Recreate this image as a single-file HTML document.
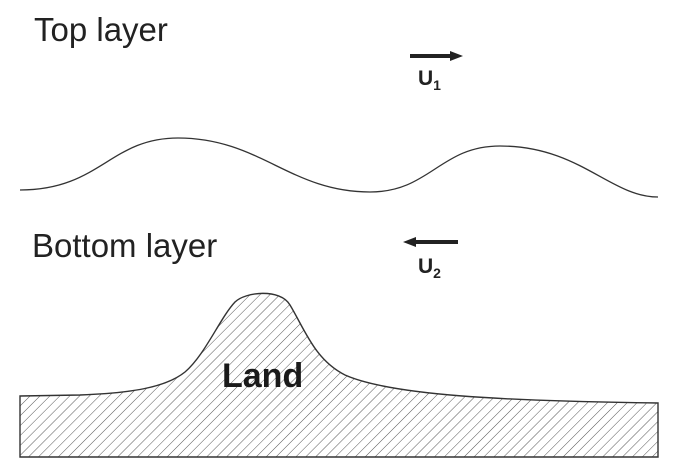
<!DOCTYPE html>
<html><head><meta charset="utf-8"><style>
html,body{margin:0;padding:0;background:#fff;}
svg{display:block;}
</style></head><body>
<svg width="678" height="476" viewBox="0 0 678 476" xmlns="http://www.w3.org/2000/svg">
<defs>
<pattern id="h" patternUnits="userSpaceOnUse" width="7" height="7" patternTransform="rotate(45)">
<line x1="0" y1="0" x2="0" y2="7" stroke="#444" stroke-width="0.9"/>
</pattern>
</defs>
<text x="34" y="41" font-family="Liberation Sans, sans-serif" font-size="33" fill="#222">Top layer</text>
<text x="32" y="257" font-family="Liberation Sans, sans-serif" font-size="33" fill="#222">Bottom layer</text>
<path d="M20,190 C100,190 110,138 178,138 C260,138 290,192 370,192 C430,192 440,146 500,146 C580,146 610,197 658,197" fill="none" stroke="#333" stroke-width="1.3"/>
<line x1="410" y1="56" x2="452" y2="56" stroke="#222" stroke-width="4"/>
<polygon points="450,51 463,56 450,61" fill="#222"/>
<text x="418" y="85" font-family="Liberation Sans, sans-serif" font-size="21" font-weight="bold" fill="#222">U<tspan font-size="14" dy="5">1</tspan></text>
<line x1="414" y1="242" x2="458" y2="242" stroke="#222" stroke-width="4"/>
<polygon points="416,237 403,242 416,247" fill="#222"/>
<text x="418" y="273" font-family="Liberation Sans, sans-serif" font-size="21" font-weight="bold" fill="#222">U<tspan font-size="14" dy="5">2</tspan></text>
<path d="M20,396 L80,395 C130,393 165,388 185,372 C205,355 220,318 235,302 C245,292 280,288 290,305 C305,330 315,360 345,375 C390,395 500,401 658,403 L658,457 L20,457 Z" fill="url(#h)" stroke="#333" stroke-width="1.4"/>
<text x="222" y="387" font-family="Liberation Sans, sans-serif" font-size="34" font-weight="bold" fill="#1a1a1a">Land</text>
</svg>
</body></html>
